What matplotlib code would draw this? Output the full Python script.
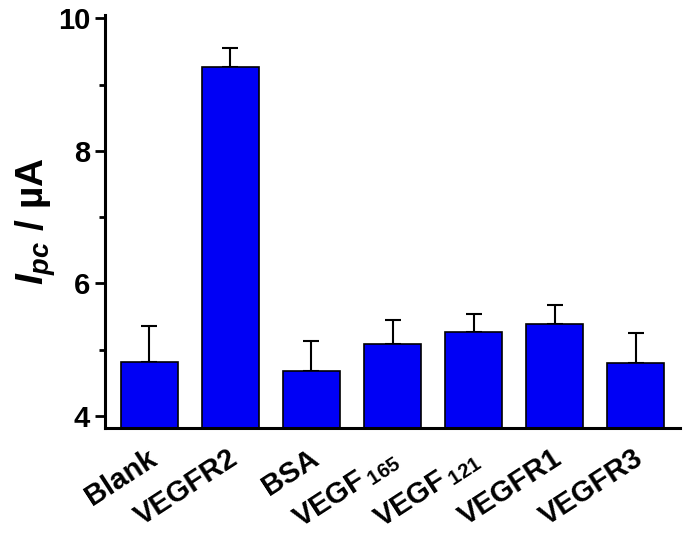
import numpy as np
import matplotlib.pyplot as plt
import matplotlib.transforms as mtransforms
from matplotlib.ticker import MultipleLocator

plt.rcParams['font.family'] = ['Liberation Sans', 'DejaVu Sans']
plt.rcParams['font.weight'] = 'bold'
plt.rcParams['mathtext.fontset'] = 'custom'
plt.rcParams['mathtext.rm'] = 'Liberation Sans:bold'
plt.rcParams['mathtext.bf'] = 'Liberation Sans:bold'
plt.rcParams['mathtext.it'] = 'Liberation Sans:bold:italic'
plt.rcParams['mathtext.sf'] = 'Liberation Sans'

# data
labels = ["Blank", "VEGFR2", "BSA", r"VEGF$\,_{\mathsf{165}}$",
          r"VEGF$\,_{\mathsf{121}}$", "VEGFR1", "VEGFR3"]
values = [4.81, 9.26, 4.68, 5.09, 5.27, 5.38, 4.79]
err_up = [0.55, 0.29, 0.45, 0.36, 0.26, 0.29, 0.46]

fig = plt.figure(figsize=(6.85, 5.34), dpi=100)
ax = fig.add_axes([0.153, 0.199, 0.84, 0.773])

x = np.arange(len(values))
ax.bar(x, values, width=0.7, color="#0000F5", edgecolor="black", linewidth=1.2, zorder=2)
ax.errorbar(x, values, yerr=[np.zeros(len(err_up)), err_up], fmt="none",
            ecolor="black", elinewidth=1.5, capsize=6, capthick=1.5, zorder=1)

ax.set_xlim(-0.55, 6.55)
ax.set_ylim(3.82, 10.05)
ax.yaxis.set_major_locator(MultipleLocator(2))
ax.yaxis.set_minor_locator(MultipleLocator(1))
ax.tick_params(axis="y", which="major", length=7, width=2, labelsize=21, direction="out")
ax.tick_params(axis="y", which="minor", length=4, width=2)
ax.set_xticks(x)
ax.set_xticklabels(labels, rotation=33, ha="right", fontsize=21)
ax.tick_params(axis="x", length=0, pad=12)
shift = mtransforms.ScaledTranslation(12 / 100, 0, fig.dpi_scale_trans)
for lab in ax.get_xticklabels():
    lab.set_transform(lab.get_transform() + shift)
for lab in ax.get_yticklabels():
    lab.set_fontweight("bold")

for s in ["top", "right"]:
    ax.spines[s].set_visible(False)
for s in ["left", "bottom"]:
    ax.spines[s].set_linewidth(2.2)

ax.set_ylabel("$I_{pc}$ / $\\mathsf{\u00b5}$A", fontsize=28, fontweight="bold")
ax.yaxis.set_label_coords(-0.082, 0.5)

fig.savefig("out.png", dpi=100)
